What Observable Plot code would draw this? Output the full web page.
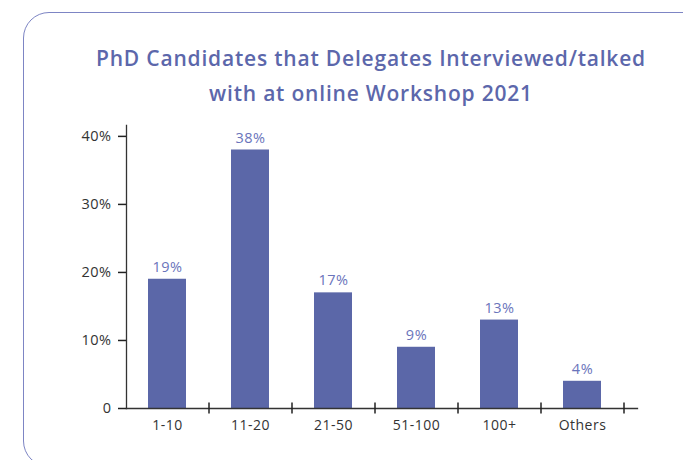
<!DOCTYPE html>
<html>
<head>
<meta charset="utf-8">
<script src="https://cdn.jsdelivr.net/npm/d3@7"></script>
<script src="https://cdn.jsdelivr.net/npm/@observablehq/plot@0.6"></script>
<style>
  html, body { margin: 0; padding: 0; background: #ffffff; overflow: hidden; }
  #wrap { position: relative; width: 683px; height: 460px; overflow: hidden; font-family: "Open Sans", "Noto Sans", sans-serif; }
  #card { position: absolute; left: 23px; top: 12px; width: 720px; height: 455px; border: 1.6px solid #7d85c4; border-radius: 26px; box-sizing: border-box; }
  #title { position: absolute; left: 0; top: 41px; width: 742px; text-align: center; color: #5c67ab; font-weight: 600; font-size: 21px; line-height: 35px; letter-spacing: 0.8px; }
  #chart { position: absolute; left: 0; top: 0; }
  #chart svg text { letter-spacing: 0.5px; }
</style>
</head>
<body>
<div id="wrap">
  <div id="card"></div>
  <div id="title">PhD Candidates that Delegates Interviewed/talked<br>with at online Workshop 2021</div>
  <div id="chart"></div>
</div>
<script>
const categories = ["1-10", "11-20", "21-50", "51-100", "100+", "Others"];
const percentages = [19, 38, 17, 9, 13, 4];
const yTicks = [0, 10, 20, 30, 40];

const data = categories.map((c, i) => ({category: c, value: percentages[i]}));
const bandwidth = 83;

const chart = Plot.plot({
  width: 683,
  height: 460,
  marginTop: 125,
  marginBottom: 52,
  marginLeft: 126,
  marginRight: 46,
  style: {fontFamily: "'Open Sans', 'Noto Sans', sans-serif", fontSize: "14px", color: "#333333", background: "transparent"},
  x: {domain: categories, range: [126, 624], paddingInner: 0.54, paddingOuter: 0.27, align: 0.5},
  y: {domain: [0, 41.6], range: [408, 125]},
  marks: [
    Plot.barY(data, {x: "category", y: "value", fill: "#5b67a8"}),
    Plot.text(data, {x: "category", y: "value", text: d => d.value + "%", dy: -12, fill: "#6a74bb", fontSize: 14.5}),
    Plot.frame({anchor: "left", stroke: "#333", strokeWidth: 1.3}),
    Plot.frame({anchor: "bottom", stroke: "#333", strokeWidth: 1.3}),
    Plot.ruleX(categories, {x: d => d, y1: -0.8, y2: 0.8, dx: bandwidth / 2, stroke: "#222", strokeWidth: 1.5}),
    Plot.axisY(yTicks, {tickSize: 8, tickPadding: 7, tickFormat: d => d === 0 ? "0" : d + "%", label: null, fontSize: 14.5, stroke: "#222", strokeWidth: 1.5}),
    Plot.axisX({tickSize: 0, tickPadding: 12, label: null, fontSize: 14})
  ]
});
document.getElementById("chart").appendChild(chart);
</script>
</body>
</html>
